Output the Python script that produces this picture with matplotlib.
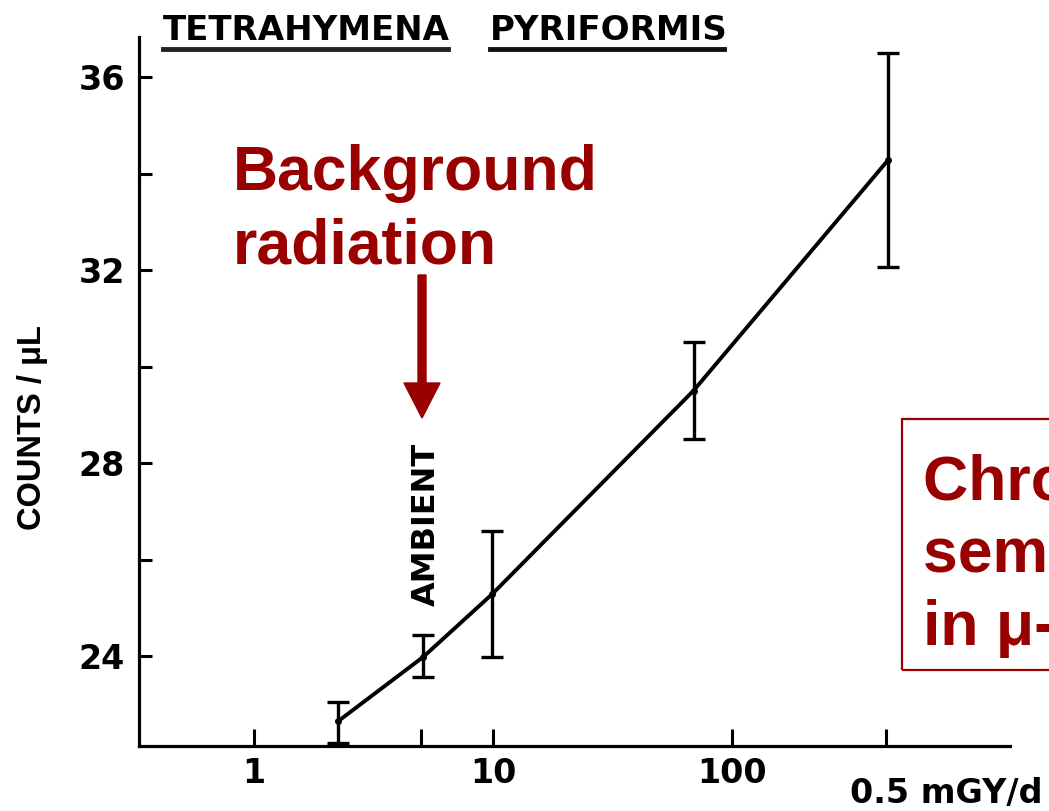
import matplotlib
matplotlib.use('Agg')
import matplotlib.pyplot as plt
from matplotlib.patches import Rectangle, FancyArrow
from matplotlib.lines import Line2D
from matplotlib.ticker import FixedLocator, NullLocator
import numpy as np

# ---- data ----
dose = [2.25, 5.1, 9.9, 69, 450]
counts = [22.65, 23.98, 25.28, 29.5, 34.28]
counts_low = [22.2, 23.56, 23.98, 28.5, 32.06]
counts_high = [23.05, 24.44, 26.59, 30.51, 36.5]
x_ticks = [1, 5, 10, 100, 440]
x_tick_labels = ['1', '', '10', '100', '']
y_major = [24, 28, 32, 36]
y_minor = [26, 30, 34]

RED = '#990000'
W, H = 1049, 811
fig = plt.figure(figsize=(W / 100, H / 100), dpi=100)
fig.patch.set_facecolor('white')


def fx(px):
    return px / W


def fy(py):
    return 1 - py / H


ax = fig.add_axes([fx(139), fy(746), fx(1010) - fx(139), fy(37) - fy(746)])
ax.set_xscale('log')
ax.set_xlim(0.330, 1456)
ax.set_ylim(22.135, 36.83)

yerr = [np.subtract(counts, counts_low), np.subtract(counts_high, counts)]
ax.errorbar(dose, counts, yerr=yerr, fmt='-o', color='black', lw=2.8, ms=4,
            capsize=8, capthick=2.4, elinewidth=2.4, clip_on=False)

for s in ['top', 'right']:
    ax.spines[s].set_visible(False)
for s in ['left', 'bottom']:
    ax.spines[s].set_linewidth(2.3)

ax.xaxis.set_major_locator(FixedLocator(x_ticks))
ax.xaxis.set_minor_locator(NullLocator())
ax.set_xticklabels(x_tick_labels)
ax.yaxis.set_major_locator(FixedLocator(y_major))
ax.yaxis.set_minor_locator(FixedLocator(y_minor))
ax.set_yticklabels([str(v) for v in y_major])

ax.tick_params(axis='x', which='both', direction='in', length=12, width=2.2, pad=8)
ax.tick_params(axis='y', which='both', direction='in', length=9, width=2.2, pad=10)
for lab in ax.get_xticklabels() + ax.get_yticklabels():
    lab.set_fontfamily('DejaVu Sans')
    lab.set_fontweight('bold')
    lab.set_fontsize(24)

# axis label
fig.text(fx(33), fy(428), 'COUNTS / μL', rotation=90, ha='center', va='center',
         family='Liberation Sans', fontweight='bold', fontsize=23.5)

# x unit label
fig.text(fx(850), fy(803), '0.5 mGY/d', ha='left', va='baseline',
         family='DejaVu Sans', fontweight='bold', fontsize=24)

# title with underlines
fig.text(fx(163), fy(40), 'TETRAHYMENA', ha='left', va='baseline',
         family='DejaVu Sans', fontweight='bold', fontsize=24.5)
fig.text(fx(490), fy(40), 'PYRIFORMIS', ha='left', va='baseline',
         family='DejaVu Sans', fontweight='bold', fontsize=24.5)
fig.add_artist(Line2D([fx(163), fx(448)], [fy(49), fy(49)], color='#222222', lw=3.5))
fig.add_artist(Line2D([fx(490), fx(724)], [fy(49), fy(49)], color='#111111', lw=3.5))

# AMBIENT marker text
fig.text(fx(426), fy(524), 'AMBIENT', rotation=90, ha='center', va='center',
         family='DejaVu Sans', fontweight='bold', fontsize=23)

# Red annotations (va='baseline' aligns the last line's baseline)
fig.text(fx(233), fy(263), 'Background\nradiation', ha='left', va='baseline',
         family='Liberation Sans', fontweight='bold', fontsize=45, color=RED,
         linespacing=1.3)
fig.add_artist(FancyArrow(4.22, (H - 275) / 100, 0, -(418 - 275) / 100,
                          width=0.08, head_width=0.36, head_length=0.35,
                          length_includes_head=True, color=RED,
                          transform=fig.dpi_scale_trans))

fig.add_artist(Rectangle((9.02, (H - 670) / 100), 3.0, (670 - 419) / 100,
                         fill=False, edgecolor=RED, lw=1.6,
                         transform=fig.dpi_scale_trans))
fig.text(fx(923), fy(645), 'Chronic dose\nsemi-log scale\nin μ-Gy/day', ha='left',
         va='baseline', family='Liberation Sans', fontweight='bold', fontsize=45,
         color=RED, linespacing=1.3)

fig.savefig('out.png', dpi=100)
